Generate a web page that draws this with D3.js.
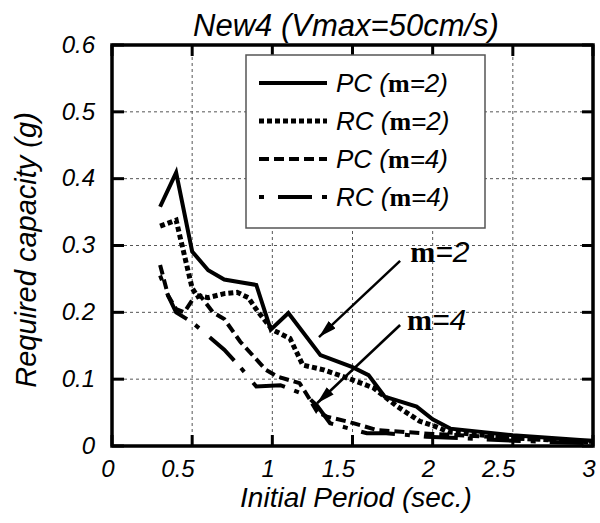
<!DOCTYPE html>
<meta charset="utf-8">
<style>
body { margin: 0; background: #fff; }
text { font-family: "Liberation Sans", Arial, sans-serif; font-style: italic; fill: #000; }
.mu { font-family: "Liberation Serif", "DejaVu Serif", serif; font-weight: bold; font-style: normal; }
</style>
<body>
<script src="https://d3js.org/d3.v7.min.js"></script>
<script>
// data: period (sec) and required capacity (g)
var tPC2 = [0.30, 0.40, 0.50, 0.60, 0.70, 0.80, 0.90, 0.99, 1.10, 1.30, 1.50, 1.60, 1.70, 1.90, 2.00, 2.11, 2.50, 2.92, 3.00];
var vPC2 = [0.358, 0.409, 0.291, 0.263, 0.249, 0.245, 0.241, 0.174, 0.199, 0.136, 0.118, 0.106, 0.074, 0.059, 0.040, 0.026, 0.016, 0.009, 0.008];

var tRC2 = [0.30, 0.40, 0.50, 0.53, 0.60, 0.70, 0.78, 0.85, 0.91, 1.00, 1.11, 1.19, 1.32, 1.50, 1.63, 1.78, 1.92, 2.02, 2.10, 2.50, 3.00];
var vRC2 = [0.329, 0.338, 0.236, 0.225, 0.222, 0.228, 0.230, 0.222, 0.201, 0.174, 0.161, 0.121, 0.114, 0.099, 0.087, 0.059, 0.037, 0.029, 0.021, 0.012, 0.006];

var tPC4 = [0.30, 0.35, 0.40, 0.45, 0.50, 0.55, 0.63, 0.70, 0.80, 0.96, 1.03, 1.17, 1.21, 1.28, 1.34, 1.48, 1.65, 2.00, 2.50, 3.00];
var vPC4 = [0.271, 0.225, 0.205, 0.200, 0.218, 0.225, 0.200, 0.190, 0.156, 0.114, 0.104, 0.094, 0.079, 0.051, 0.044, 0.036, 0.024, 0.018, 0.012, 0.006];

var tRC4 = [0.30, 0.35, 0.40, 0.50, 0.55, 0.70, 0.80, 0.90, 1.05, 1.21, 1.28, 1.36, 1.59, 1.71, 1.96, 2.50, 3.00];
var vRC4 = [0.255, 0.225, 0.200, 0.185, 0.175, 0.144, 0.118, 0.089, 0.091, 0.076, 0.060, 0.034, 0.019, 0.019, 0.014, 0.008, 0.004];

var xTicks = [0, 0.5, 1, 1.5, 2, 2.5, 3];
var yTicks = [0, 0.1, 0.2, 0.3, 0.4, 0.5, 0.6];
var seriesNames = ["PC", "RC", "PC", "RC"];
var seriesM = ["2", "2", "4", "4"];
var seriesDash = ["none", "5,3", "10,5", "5,14,34,10"];
var seriesWidth = [4, 5, 4, 4];

// annotation arrows: label position, arrow start, arrow tip (data units)
var annoM = ["2", "4"];
var annoLabel = [[1.86, 0.275], [1.84, 0.174]];
var annoFrom = [[1.797, 0.277], [1.797, 0.181]];
var annoTo = [[1.291, 0.163], [1.279, 0.064]];

var margin = {top: 45, right: 7, bottom: 77, left: 112},
    W = 600 - margin.left - margin.right,
    H = 523 - margin.top - margin.bottom;

var x = d3.scaleLinear().domain([0, 3]).range([0, W]);
var y = d3.scaleLinear().domain([0, 0.6]).range([H, 0]);

var root = d3.select("body").append("svg")
    .attr("width", 600)
    .attr("height", 523);

root.append("defs").append("marker")
    .attr("id", "head")
    .attr("viewBox", "0 0 18 10")
    .attr("refX", 18).attr("refY", 5)
    .attr("markerWidth", 18).attr("markerHeight", 10)
    .attr("markerUnits", "userSpaceOnUse")
    .attr("orient", "auto")
  .append("path")
    .attr("d", "M0,0 L18,5 L0,10 Z")
    .attr("fill", "#000");

var svg = root.append("g")
    .attr("transform", "translate(" + margin.left + "," + margin.top + ")");

// dashed gridlines
svg.selectAll(".gx").data(xTicks.slice(1, -1)).enter().append("line")
    .attr("x1", function(d) { return x(d); }).attr("x2", function(d) { return x(d); })
    .attr("y1", 0).attr("y2", H)
    .attr("stroke", "#555").attr("stroke-width", 1).attr("stroke-dasharray", "3,3");
svg.selectAll(".gy").data(yTicks.slice(1, -1)).enter().append("line")
    .attr("y1", function(d) { return y(d); }).attr("y2", function(d) { return y(d); })
    .attr("x1", 0).attr("x2", W)
    .attr("stroke", "#555").attr("stroke-width", 1).attr("stroke-dasharray", "3,3");

// curves
var valueline = d3.line()
    .x(function(d) { return x(d[0]); })
    .y(function(d) { return y(d[1]); });

var series = [d3.zip(tPC2, vPC2), d3.zip(tRC2, vRC2), d3.zip(tPC4, vPC4), d3.zip(tRC4, vRC4)];
series.forEach(function(s, i) {
  svg.append("path")
      .datum(s)
      .attr("fill", "none")
      .attr("stroke", "#000")
      .attr("stroke-width", seriesWidth[i])
      .attr("stroke-dasharray", seriesDash[i])
      .attr("d", valueline);
});

// inward tick marks on all four sides
svg.selectAll(".tb").data(xTicks).enter().append("line")
    .attr("x1", function(d) { return x(d); }).attr("x2", function(d) { return x(d); })
    .attr("y1", H).attr("y2", H - 11)
    .attr("stroke", "#000").attr("stroke-width", 3);
svg.selectAll(".tt").data(xTicks).enter().append("line")
    .attr("x1", function(d) { return x(d); }).attr("x2", function(d) { return x(d); })
    .attr("y1", 0).attr("y2", 11)
    .attr("stroke", "#000").attr("stroke-width", 3);
svg.selectAll(".tl").data(yTicks).enter().append("line")
    .attr("y1", function(d) { return y(d); }).attr("y2", function(d) { return y(d); })
    .attr("x1", 0).attr("x2", 12)
    .attr("stroke", "#000").attr("stroke-width", 3);
svg.selectAll(".tr").data(yTicks).enter().append("line")
    .attr("y1", function(d) { return y(d); }).attr("y2", function(d) { return y(d); })
    .attr("x1", W).attr("x2", W - 11)
    .attr("stroke", "#000").attr("stroke-width", 3);

// tick labels from the axes
var xb = svg.append("g")
    .attr("transform", "translate(0," + H + ")")
    .call(d3.axisBottom(x).tickValues(xTicks).tickSize(0).tickPadding(14)
      .tickFormat(function(d) { return d; }));
xb.selectAll("text").attr("text-anchor", "end").attr("dx", 2);

var yl = svg.append("g")
    .call(d3.axisLeft(y).tickValues(yTicks).tickSize(0).tickPadding(17)
      .tickFormat(function(d) { return d; }));
yl.selectAll("text").attr("dy", "0.3em");

[xb, yl].forEach(function(g) {
  g.select(".domain").remove();
  g.selectAll("text").attr("font-family", null).style("font-size", "24px");
});

// frame
svg.append("rect")
    .attr("width", W)
    .attr("height", H)
    .attr("fill", "none")
    .attr("stroke", "#000")
    .attr("stroke-width", 3.5);

// legend
var legend = svg.append("g").attr("transform", "translate(134,10)");
legend.append("rect")
    .attr("width", 239).attr("height", 173)
    .attr("fill", "#fff").attr("stroke", "#555").attr("stroke-width", 1.5);
seriesNames.forEach(function(n, i) {
  var ly = 28 + i * 38;
  legend.append("line")
      .attr("x1", 13).attr("x2", 81).attr("y1", ly).attr("y2", ly)
      .attr("stroke", "#000")
      .attr("stroke-width", seriesWidth[i])
      .attr("stroke-dasharray", seriesDash[i]);
  var t = legend.append("text")
      .attr("x", 90).attr("y", ly + 9)
      .style("font-size", "26px");
  t.append("tspan").text(n + " (");
  t.append("tspan").attr("class", "mu").text("m");
  t.append("tspan").text("=" + seriesM[i] + ")");
});

// annotations
annoM.forEach(function(m, i) {
  svg.append("line")
      .attr("x1", x(annoFrom[i][0])).attr("y1", y(annoFrom[i][1]))
      .attr("x2", x(annoTo[i][0])).attr("y2", y(annoTo[i][1]))
      .attr("stroke", "#000").attr("stroke-width", 2.5)
      .attr("marker-end", "url(#head)");
  var t = svg.append("text")
      .attr("x", x(annoLabel[i][0])).attr("y", y(annoLabel[i][1]))
      .style("font-size", "30px");
  t.append("tspan").attr("class", "mu").text("m");
  t.append("tspan").text("=" + m);
});

// title and axis labels
root.append("text")
    .attr("x", 346).attr("y", 36)
    .attr("text-anchor", "middle")
    .style("font-size", "31px")
    .text("New4 (Vmax=50cm/s)");

root.append("text")
    .attr("x", 356).attr("y", 507)
    .attr("text-anchor", "middle")
    .style("font-size", "28px")
    .text("Initial Period (sec.)");

root.append("text")
    .attr("transform", "rotate(-90)")
    .attr("x", -250).attr("y", 36)
    .attr("text-anchor", "middle")
    .style("font-size", "29px")
    .text("Required capacity (g)");
</script>
</body>
